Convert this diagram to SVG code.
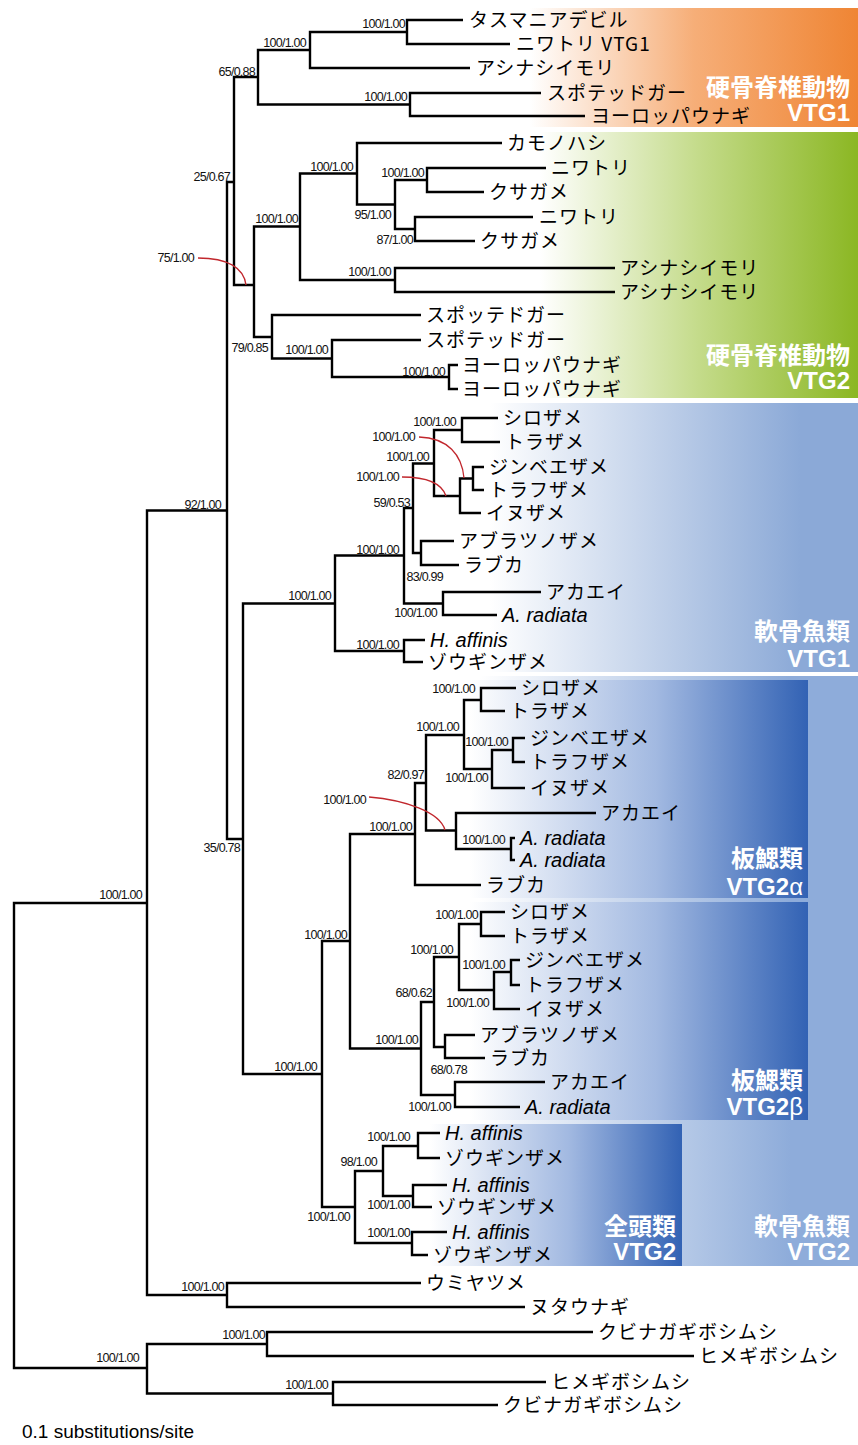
<svg xmlns="http://www.w3.org/2000/svg" width="858" height="1445" viewBox="0 0 858 1445">
<defs>
<linearGradient id="gO" gradientUnits="userSpaceOnUse" x1="530" y1="0" x2="858" y2="0"><stop offset="0" stop-color="#FFFFFF"/><stop offset="0.5" stop-color="#F6AE78"/><stop offset="1" stop-color="#EF8534"/></linearGradient>
<linearGradient id="gG" gradientUnits="userSpaceOnUse" x1="540" y1="0" x2="858" y2="0"><stop offset="0" stop-color="#FFFFFF"/><stop offset="0.5" stop-color="#C4DB8A"/><stop offset="1" stop-color="#8BB723"/></linearGradient>
<linearGradient id="gB1" gradientUnits="userSpaceOnUse" x1="490" y1="0" x2="800" y2="0"><stop offset="0" stop-color="#FFFFFF"/><stop offset="1" stop-color="#8BA9D7"/></linearGradient>
<linearGradient id="gB2" gradientUnits="userSpaceOnUse" x1="480" y1="0" x2="790" y2="0"><stop offset="0" stop-color="#FFFFFF"/><stop offset="1" stop-color="#8EACDA"/></linearGradient>
<linearGradient id="gD" gradientUnits="userSpaceOnUse" x1="470" y1="0" x2="808" y2="0"><stop offset="0" stop-color="#FFFFFF"/><stop offset="0.55" stop-color="#A2B9E1"/><stop offset="1" stop-color="#3262B4"/></linearGradient>
<linearGradient id="gD2" gradientUnits="userSpaceOnUse" x1="430" y1="0" x2="682" y2="0"><stop offset="0" stop-color="#FFFFFF"/><stop offset="0.55" stop-color="#A2B9E1"/><stop offset="1" stop-color="#3262B4"/></linearGradient>
</defs>
<style>
.t{fill:none;stroke:#000;stroke-width:2.4;stroke-linejoin:miter}
.r{fill:none;stroke:#C1272D;stroke-width:1.3}
.s{font-family:'Liberation Sans',Arial,sans-serif;font-size:12.5px;letter-spacing:-0.75px;text-anchor:end;fill:#111}
.j{font-family:'Noto Sans CJK JP',sans-serif;font-size:19px;letter-spacing:1px;fill:#000}
.i{font-family:'Liberation Sans',Arial,sans-serif;font-size:20px;font-style:italic;fill:#000}
.g{font-family:'Liberation Sans','Noto Sans CJK JP',sans-serif;font-size:24px;font-weight:bold;fill:#fff;text-anchor:end}
.sc{font-family:'Liberation Sans',Arial,sans-serif;font-size:19px;fill:#000}
</style>
<rect width="858" height="1445" fill="#fff"/>
<g id="backgrounds">
<rect x="430" y="8" width="428" height="119" fill="url(#gO)"/>
<rect x="430" y="132" width="428" height="266" fill="url(#gG)"/>
<rect x="430" y="403" width="428" height="269" fill="url(#gB1)"/>
<rect x="430" y="676" width="428" height="590" fill="url(#gB2)"/>
<rect x="440" y="680" width="368" height="218" fill="url(#gD)"/>
<rect x="440" y="902" width="368" height="218" fill="url(#gD)"/>
<rect x="400" y="1124" width="282" height="142" fill="url(#gD2)"/>
</g>
<g id="group-labels">
<text class="g" x="850" y="96">硬骨脊椎動物</text>
<text class="g" x="850" y="121">VTG1</text>
<text class="g" x="850" y="364">硬骨脊椎動物</text>
<text class="g" x="850" y="389">VTG2</text>
<text class="g" x="850" y="640">軟骨魚類</text>
<text class="g" x="850" y="667">VTG1</text>
<text class="g" x="803" y="867">板鰓類</text>
<text class="g" x="803" y="895">VTG2<tspan font-weight="normal">α</tspan></text>
<text class="g" x="803" y="1089">板鰓類</text>
<text class="g" x="803" y="1115">VTG2<tspan font-weight="normal">β</tspan></text>
<text class="g" x="676" y="1235">全頭類</text>
<text class="g" x="676" y="1260">VTG2</text>
<text class="g" x="850" y="1235">軟骨魚類</text>
<text class="g" x="850" y="1260">VTG2</text>
</g>
<g id="connectors">
<path class="t" d="M147,903 H14 V1368 H147"/>
<path class="t" d="M227,510.5 H147 V1295 H227"/>
<path class="t" d="M234,182 H227 V839 H243"/>
<path class="t" d="M258,77 H234 V285 H254"/>
<path class="t" d="M310,50 H258 V104.5 H410"/>
<path class="t" d="M407,32 H310 V68 H470"/>
<path class="t" d="M463,20 H407 V44 H510"/>
<path class="t" d="M541,93 H410 V116 H585"/>
<path class="t" d="M300,226.5 H254 V337 H272"/>
<path class="t" d="M357,173.5 H300 V280 H395"/>
<path class="t" d="M502,143 H357 V204.5 H395"/>
<path class="t" d="M427,180 H395 V229 H415"/>
<path class="t" d="M546,168 H427 V192 H484"/>
<path class="t" d="M533,217 H415 V241 H475"/>
<path class="t" d="M615,268 H395 V292 H615"/>
<path class="t" d="M421,315 H272 V358.5 H332"/>
<path class="t" d="M421,340 H332 V377 H449"/>
<path class="t" d="M458,365 H449 V389 H458"/>
<path class="t" d="M335,603.5 H243 V1074 H322"/>
<path class="t" d="M404,555.5 H335 V651 H404"/>
<path class="t" d="M413,508 H404 V603.5 H443"/>
<path class="t" d="M434,463.5 H413 V553 H421"/>
<path class="t" d="M462,430 H434 V496 H460"/>
<path class="t" d="M498,418 H462 V442 H500"/>
<path class="t" d="M473,478.5 H460 V513 H481"/>
<path class="t" d="M484,467 H473 V490 H484"/>
<path class="t" d="M454,541 H421 V565 H459"/>
<path class="t" d="M541,592 H443 V615 H497"/>
<path class="t" d="M425,640 H404 V662 H423"/>
<path class="t" d="M350,941 H322 V1207 H355"/>
<path class="t" d="M415,834 H350 V1048.5 H421"/>
<path class="t" d="M426,783 H415 V885 H481"/>
<path class="t" d="M464,735 H426 V830.5 H456"/>
<path class="t" d="M481,700 H464 V769 H492"/>
<path class="t" d="M516,688 H481 V711 H505"/>
<path class="t" d="M513,750 H492 V788 H525"/>
<path class="t" d="M525,738 H513 V762 H525"/>
<path class="t" d="M596,813 H456 V849 H511"/>
<path class="t" d="M515,838 H511 V860 H515"/>
<path class="t" d="M434,1002 H421 V1095 H455"/>
<path class="t" d="M459,957 H434 V1047 H445"/>
<path class="t" d="M481,924 H459 V990 H494"/>
<path class="t" d="M505,912 H481 V936 H505"/>
<path class="t" d="M511,972 H494 V1009 H520"/>
<path class="t" d="M520,960 H511 V985 H520"/>
<path class="t" d="M475,1035 H445 V1058 H485"/>
<path class="t" d="M545,1082 H455 V1107 H520"/>
<path class="t" d="M383,1171 H355 V1243 H412"/>
<path class="t" d="M418,1146 H383 V1196 H413"/>
<path class="t" d="M440,1133 H418 V1158 H440"/>
<path class="t" d="M447,1185 H413 V1207 H432"/>
<path class="t" d="M447,1232 H412 V1255 H428"/>
<path class="t" d="M421,1283 H227 V1307 H525"/>
<path class="t" d="M267,1344 H147 V1393.5 H333"/>
<path class="t" d="M593,1332 H267 V1356 H694"/>
<path class="t" d="M546,1382 H333 V1405 H498"/>
<path class="r" d="M198,258 C228,258 244,268 246,285"/>
<path class="r" d="M419,437 C448,438 462,455 464,478"/>
<path class="r" d="M402,477 C428,477 442,484 446,496"/>
<path class="r" d="M369,797 C405,800 440,812 445,830"/>
</g>
<g id="supports">
<text class="s" x="405" y="28">100/1.00</text>
<text class="s" x="306" y="47">100/1.00</text>
<text class="s" x="407" y="101">100/1.00</text>
<text class="s" x="255" y="76">65/0.88</text>
<text class="s" x="230" y="181">25/0.67</text>
<text class="s" x="298" y="223">100/1.00</text>
<text class="s" x="353" y="171">100/1.00</text>
<text class="s" x="424" y="177">100/1.00</text>
<text class="s" x="391" y="219">95/1.00</text>
<text class="s" x="413" y="244">87/1.00</text>
<text class="s" x="391" y="276">100/1.00</text>
<text class="s" x="194" y="262">75/1.00</text>
<text class="s" x="268" y="352">79/0.85</text>
<text class="s" x="328" y="354">100/1.00</text>
<text class="s" x="445" y="376">100/1.00</text>
<text class="s" x="221" y="509">92/1.00</text>
<text class="s" x="240" y="852">35/0.78</text>
<text class="s" x="331" y="600">100/1.00</text>
<text class="s" x="399" y="554">100/1.00</text>
<text class="s" x="410" y="507">59/0.53</text>
<text class="s" x="429" y="461">100/1.00</text>
<text class="s" x="456" y="426">100/1.00</text>
<text class="s" x="415" y="441">100/1.00</text>
<text class="s" x="399" y="481">100/1.00</text>
<text class="s" x="443" y="581">83/0.99</text>
<text class="s" x="437" y="617">100/1.00</text>
<text class="s" x="399" y="649">100/1.00</text>
<text class="s" x="317" y="1071">100/1.00</text>
<text class="s" x="347" y="939">100/1.00</text>
<text class="s" x="412" y="831">100/1.00</text>
<text class="s" x="424" y="779">82/0.97</text>
<text class="s" x="459" y="731">100/1.00</text>
<text class="s" x="475" y="693">100/1.00</text>
<text class="s" x="488" y="782">100/1.00</text>
<text class="s" x="508" y="746">100/1.00</text>
<text class="s" x="366" y="804">100/1.00</text>
<text class="s" x="505" y="844">100/1.00</text>
<text class="s" x="418" y="1044">100/1.00</text>
<text class="s" x="432" y="997">68/0.62</text>
<text class="s" x="453" y="954">100/1.00</text>
<text class="s" x="478" y="919">100/1.00</text>
<text class="s" x="505" y="969">100/1.00</text>
<text class="s" x="489" y="1007">100/1.00</text>
<text class="s" x="467" y="1074">68/0.78</text>
<text class="s" x="451" y="1111">100/1.00</text>
<text class="s" x="350" y="1221">100/1.00</text>
<text class="s" x="377" y="1166">98/1.00</text>
<text class="s" x="410" y="1141">100/1.00</text>
<text class="s" x="410" y="1209">100/1.00</text>
<text class="s" x="410" y="1237">100/1.00</text>
<text class="s" x="224" y="1291">100/1.00</text>
<text class="s" x="142" y="899">100/1.00</text>
<text class="s" x="139" y="1362">100/1.00</text>
<text class="s" x="265" y="1339">100/1.00</text>
<text class="s" x="328" y="1389">100/1.00</text>
</g>
<g id="leaf-01"><text class="j" x="469" y="27">タスマニアデビル</text></g>
<g id="leaf-02"><text class="j" x="516" y="51">ニワトリ VTG1</text></g>
<g id="leaf-03"><text class="j" x="476" y="75">アシナシイモリ</text></g>
<g id="leaf-04"><text class="j" x="547" y="100">スポテッドガー</text></g>
<g id="leaf-05"><text class="j" x="591" y="123">ヨーロッパウナギ</text></g>
<g id="leaf-06"><text class="j" x="507" y="150">カモノハシ</text></g>
<g id="leaf-07"><text class="j" x="551" y="175">ニワトリ</text></g>
<g id="leaf-08"><text class="j" x="489" y="199">クサガメ</text></g>
<g id="leaf-09"><text class="j" x="539" y="224">ニワトリ</text></g>
<g id="leaf-10"><text class="j" x="480" y="248">クサガメ</text></g>
<g id="leaf-11"><text class="j" x="620" y="275">アシナシイモリ</text></g>
<g id="leaf-12"><text class="j" x="620" y="299">アシナシイモリ</text></g>
<g id="leaf-13"><text class="j" x="426" y="322">スポッテドガー</text></g>
<g id="leaf-14"><text class="j" x="426" y="347">スポテッドガー</text></g>
<g id="leaf-15"><text class="j" x="462" y="372">ヨーロッパウナギ</text></g>
<g id="leaf-16"><text class="j" x="462" y="396">ヨーロッパウナギ</text></g>
<g id="leaf-17"><text class="j" x="503" y="425">シロザメ</text></g>
<g id="leaf-18"><text class="j" x="505" y="449">トラザメ</text></g>
<g id="leaf-19"><text class="j" x="489" y="474">ジンベエザメ</text></g>
<g id="leaf-20"><text class="j" x="489" y="497">トラフザメ</text></g>
<g id="leaf-21"><text class="j" x="486" y="520">イヌザメ</text></g>
<g id="leaf-22"><text class="j" x="459" y="548">アブラツノザメ</text></g>
<g id="leaf-23"><text class="j" x="464" y="572">ラブカ</text></g>
<g id="leaf-24"><text class="j" x="546" y="599">アカエイ</text></g>
<g id="leaf-25"><text class="i" x="502" y="622">A. radiata</text></g>
<g id="leaf-26"><text class="i" x="430" y="647">H. affinis</text></g>
<g id="leaf-27"><text class="j" x="428" y="669">ゾウギンザメ</text></g>
<g id="leaf-28"><text class="j" x="521" y="695">シロザメ</text></g>
<g id="leaf-29"><text class="j" x="510" y="718">トラザメ</text></g>
<g id="leaf-30"><text class="j" x="530" y="745">ジンベエザメ</text></g>
<g id="leaf-31"><text class="j" x="530" y="769">トラフザメ</text></g>
<g id="leaf-32"><text class="j" x="530" y="795">イヌザメ</text></g>
<g id="leaf-33"><text class="j" x="601" y="820">アカエイ</text></g>
<g id="leaf-34"><text class="i" x="520" y="845">A. radiata</text></g>
<g id="leaf-35"><text class="i" x="520" y="867">A. radiata</text></g>
<g id="leaf-36"><text class="j" x="486" y="892">ラブカ</text></g>
<g id="leaf-37"><text class="j" x="510" y="919">シロザメ</text></g>
<g id="leaf-38"><text class="j" x="510" y="943">トラザメ</text></g>
<g id="leaf-39"><text class="j" x="525" y="967">ジンベエザメ</text></g>
<g id="leaf-40"><text class="j" x="525" y="992">トラフザメ</text></g>
<g id="leaf-41"><text class="j" x="525" y="1016">イヌザメ</text></g>
<g id="leaf-42"><text class="j" x="480" y="1042">アブラツノザメ</text></g>
<g id="leaf-43"><text class="j" x="490" y="1065">ラブカ</text></g>
<g id="leaf-44"><text class="j" x="550" y="1089">アカエイ</text></g>
<g id="leaf-45"><text class="i" x="525" y="1114">A. radiata</text></g>
<g id="leaf-46"><text class="i" x="445" y="1140">H. affinis</text></g>
<g id="leaf-47"><text class="j" x="445" y="1165">ゾウギンザメ</text></g>
<g id="leaf-48"><text class="i" x="452" y="1192">H. affinis</text></g>
<g id="leaf-49"><text class="j" x="437" y="1214">ゾウギンザメ</text></g>
<g id="leaf-50"><text class="i" x="452" y="1239">H. affinis</text></g>
<g id="leaf-51"><text class="j" x="433" y="1262">ゾウギンザメ</text></g>
<g id="leaf-52"><text class="j" x="426" y="1290">ウミヤツメ</text></g>
<g id="leaf-53"><text class="j" x="530" y="1314">ヌタウナギ</text></g>
<g id="leaf-54"><text class="j" x="598" y="1339">クビナガギボシムシ</text></g>
<g id="leaf-55"><text class="j" x="699" y="1363">ヒメギボシムシ</text></g>
<g id="leaf-56"><text class="j" x="551" y="1389">ヒメギボシムシ</text></g>
<g id="leaf-57"><text class="j" x="503" y="1412">クビナガギボシムシ</text></g>
<g id="scale"><text class="sc" x="22" y="1438">0.1 substitutions/site</text></g>
</svg>
